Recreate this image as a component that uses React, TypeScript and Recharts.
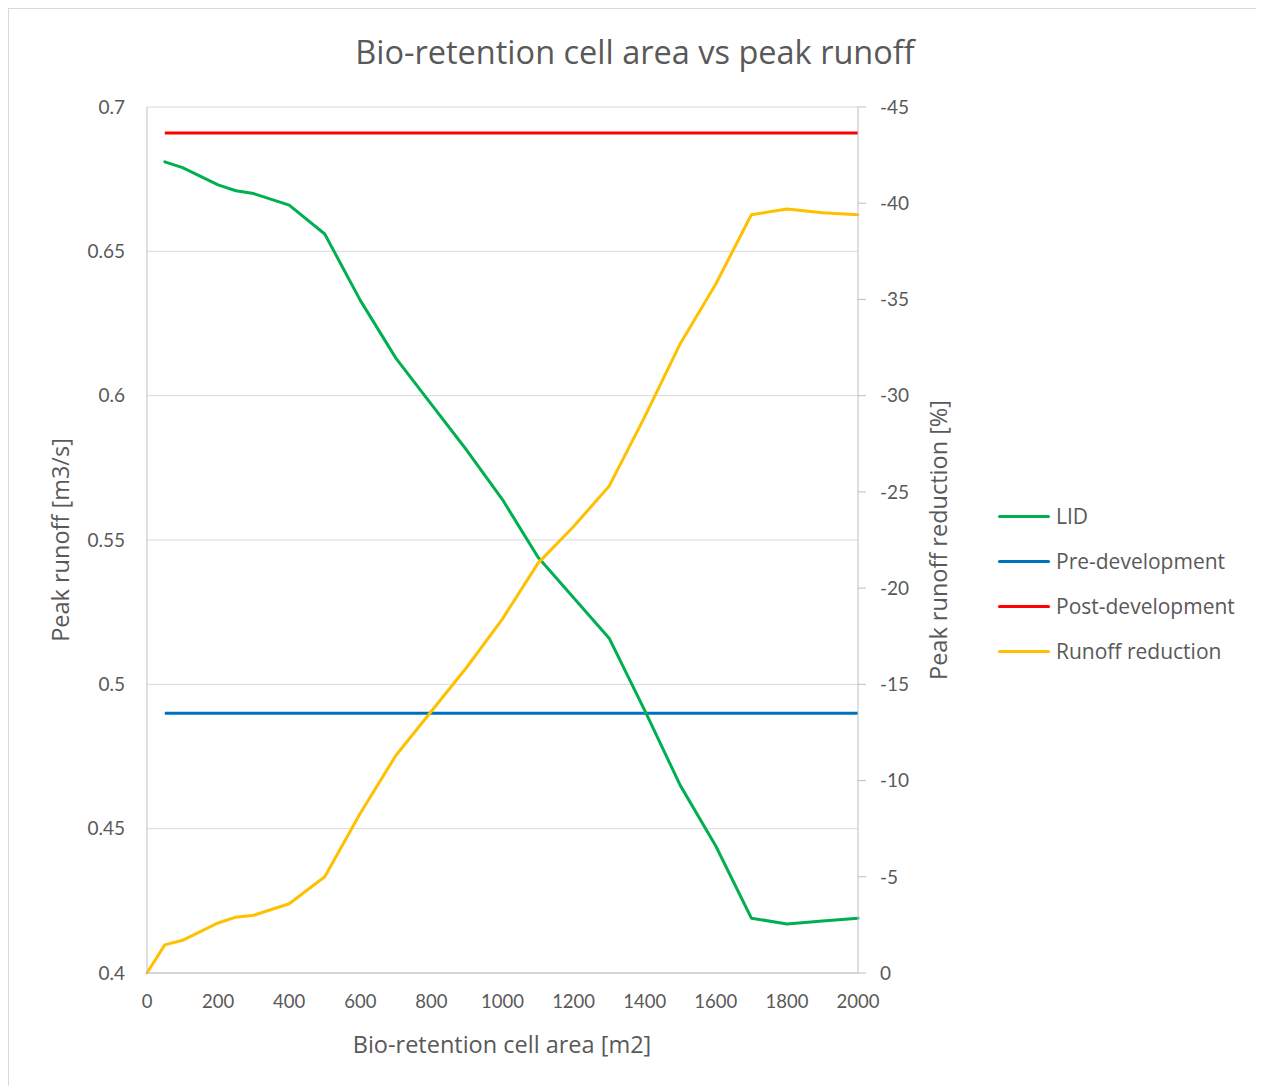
import { CartesianGrid, Line, LineChart, XAxis, YAxis } from "recharts";

const areas = [0, 50, 100, 200, 250, 300, 400, 500, 600, 700, 800, 900, 1000, 1100, 1200, 1300, 1400, 1500, 1600, 1700, 1800, 1900, 2000];
const lidRunoff = [null, 0.681, 0.679, 0.673, 0.671, 0.67, 0.666, 0.656, 0.633, 0.613, 0.597, 0.581, 0.564, 0.544, 0.53, 0.516, 0.491, 0.465, 0.444, 0.419, 0.417, 0.418, 0.419];
const runoffReduction = [0, -1.46, -1.7, -2.6, -2.9, -3.0, -3.6, -5.0, -8.3, -11.3, -13.6, -15.9, -18.4, -21.3, -23.2, -25.3, -28.9, -32.7, -35.8, -39.4, -39.7, -39.5, -39.4];
const preDevelopment = 0.49;
const postDevelopment = 0.691;

const xTicks = [0, 200, 400, 600, 800, 1000, 1200, 1400, 1600, 1800, 2000];
const leftTicks = [0.4, 0.45, 0.5, 0.55, 0.6, 0.65, 0.7];
const rightTicks = [0, -5, -10, -15, -20, -25, -30, -35, -40, -45];

const TICK_FONT = "Lato, 'Open Sans', sans-serif";
const FONT = "'Open Sans', Lato, sans-serif";
const TXT = "#595959";
const AXIS = "#bfbfbf";

const legendItems = [
  { label: "LID", color: "#00B050" },
  { label: "Pre-development", color: "#0070C0" },
  { label: "Post-development", color: "#FF0000" },
  { label: "Runoff reduction", color: "#FFC000" },
];

const rows = areas.map((area, i) => ({
  area,
  lid: lidRunoff[i],
  pre: lidRunoff[i] == null ? null : preDevelopment,
  post: lidRunoff[i] == null ? null : postDevelopment,
  reduction: runoffReduction[i],
}));

const xTick = { fill: TXT, fontSize: 18.5, fontFamily: TICK_FONT };
const yTick = { fill: TXT, fontSize: 19, fontFamily: TICK_FONT };

const axisTitle = {
  position: "absolute" as const,
  whiteSpace: "nowrap" as const,
  fontSize: 23.5,
};

export default function App() {
  return (
    <div
      style={{
        position: "relative",
        width: 1252,
        height: 1090,
        border: "1px solid #d9d9d9",
        background: "#fff",
        fontFamily: FONT,
        color: TXT,
      }}
    >
      <LineChart
        width={1252}
        height={1076}
        data={rows}
        margin={{ top: 98, right: 343, left: 0, bottom: 72 }}
      >
        <CartesianGrid yAxisId="left" stroke="#d9d9d9" vertical={false} />
        <XAxis
          dataKey="area"
          type="number"
          domain={[0, 2000]}
          ticks={xTicks}
          tick={xTick}
          tickLine={false}
          tickSize={0}
          tickMargin={22}
          axisLine={{ stroke: AXIS }}
          height={40}
        />
        <YAxis
          yAxisId="left"
          domain={[0.4, 0.7]}
          ticks={leftTicks}
          tick={yTick}
          tickLine={false}
          tickSize={0}
          tickMargin={22}
          axisLine={{ stroke: AXIS }}
          width={138}
          tickFormatter={(v) => String(Number(Number(v).toFixed(2)))}
        />
        <YAxis
          yAxisId="right"
          orientation="right"
          reversed
          domain={[-45, 0]}
          ticks={rightTicks}
          tick={yTick}
          tickLine={{ stroke: AXIS }}
          tickSize={8}
          tickMargin={14}
          axisLine={{ stroke: AXIS }}
          width={60}
        />
        <Line yAxisId="left" dataKey="pre" stroke="#0070C0" strokeWidth={3} dot={false} isAnimationActive={false} />
        <Line yAxisId="left" dataKey="post" stroke="#FF0000" strokeWidth={3} dot={false} isAnimationActive={false} />
        <Line yAxisId="left" dataKey="lid" stroke="#00B050" strokeWidth={3} dot={false} strokeLinecap="round" strokeLinejoin="round" isAnimationActive={false} />
        <Line yAxisId="right" dataKey="reduction" stroke="#FFC000" strokeWidth={3} dot={false} strokeLinecap="round" strokeLinejoin="round" isAnimationActive={false} />
      </LineChart>

      <div style={{ position: "absolute", left: 0, width: 1252, top: 21, textAlign: "center", fontSize: 32.5, lineHeight: "44px" }}>
        Bio-retention cell area vs peak runoff
      </div>
      <div style={{ ...axisTitle, left: 51, top: 531, transform: "translate(-50%, -50%) rotate(-90deg)" }}>
        Peak runoff [m3/s]
      </div>
      <div style={{ ...axisTitle, left: 929, top: 531, transform: "translate(-50%, -50%) rotate(-90deg)" }}>
        Peak runoff reduction [%]
      </div>
      <div style={{ ...axisTitle, left: 493, top: 1035, transform: "translate(-50%, -50%)" }}>
        Bio-retention cell area [m2]
      </div>

      {legendItems.map((item, i) => (
        <div
          key={item.label}
          style={{ position: "absolute", left: 989, top: 507 + i * 45 - 14, height: 28, display: "flex", alignItems: "center", fontSize: 21 }}
        >
          <span style={{ display: "inline-block", width: 52, height: 3, borderRadius: 2, background: item.color, marginRight: 6 }} />
          {item.label}
        </div>
      ))}
    </div>
  );
}
